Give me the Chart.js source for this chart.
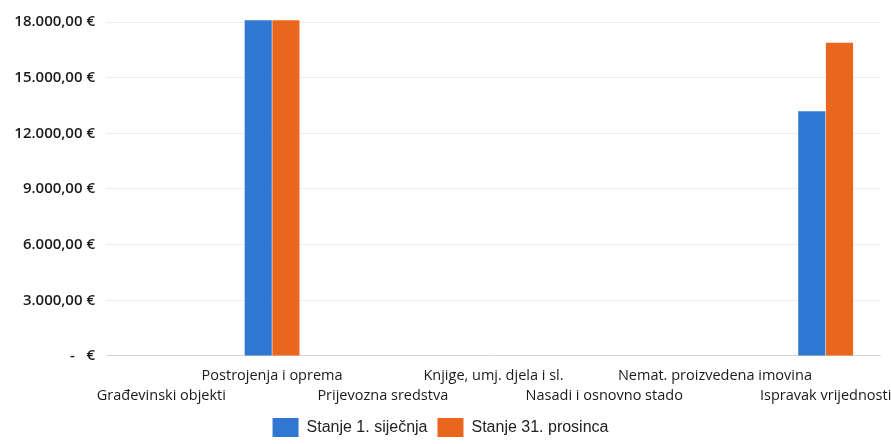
<!DOCTYPE html>
<html>
<head>
<meta charset="utf-8">
<script src="https://cdn.jsdelivr.net/npm/chart.js@4.4.1/dist/chart.umd.min.js"></script>
<style>
  html, body { margin: 0; padding: 0; background: #fff; }
  #wrap { width: 891px; height: 444px; }
</style>
</head>
<body>
<div id="wrap"><canvas id="chart" width="891" height="444"></canvas></div>
<script>
const categories = [
  "Građevinski objekti",
  "Postrojenja i oprema",
  "Prijevozna sredstva",
  "Knjige, umj. djela i sl.",
  "Nasadi i osnovno stado",
  "Nemat. proizvedena imovina",
  "Ispravak vrijednosti",
];
const stanjeSiječnja = [0, 18100, 0, 0, 0, 0, 13190];
const stanjeProsinca = [0, 18100, 0, 0, 0, 0, 16880];
const seriesNames = ["Stanje 1. siječnja", "Stanje 31. prosinca"];
const yTicks = [0, 3000, 6000, 9000, 12000, 15000, 18000];

const COLORS = { jan: "#2f77d1", dec: "#ea661f" };

function euro(v) {
  if (v === 0) return "-   €";
  return v.toLocaleString("de-DE", { minimumFractionDigits: 2, maximumFractionDigits: 2 }) + " €";
}

const ctx = document.getElementById("chart").getContext("2d");
new Chart(ctx, {
  type: "bar",
  data: {
    labels: categories,
    datasets: [
      { label: seriesNames[0], data: stanjeSiječnja, backgroundColor: COLORS.jan, clip: false,
        categoryPercentage: 0.5, barPercentage: 0.98 },
      { label: seriesNames[1], data: stanjeProsinca, backgroundColor: COLORS.dec, clip: false,
        categoryPercentage: 0.5, barPercentage: 0.98 },
    ],
  },
  options: {
    responsive: false,
    animation: false,
    layout: { padding: { top: 22, right: 10, left: 0, bottom: -3 } },
    scales: {
      x: {
        grid: { display: false },
        border: { display: false },
        afterFit: (s) => { s.paddingRight = 0; },
        ticks: {
          autoSkip: false,
          maxRotation: 0,
          minRotation: 0,
          padding: 2,
          color: "#1a1a1a",
          font: { family: "Open Sans", size: 14.5, lineHeight: 1.38 },
          callback: function (v, i) {
            const l = this.getLabelForValue(v);
            return i % 2 ? [l, ""] : ["", l];
          },
        },
      },
      y: {
        min: 0,
        max: 18000,
        afterBuildTicks: (s) => { s.ticks = yTicks.map((v) => ({ value: v })); },
        afterFit: (s) => { s.width = 106; },
        border: { display: false },
        grid: {
          color: (c) => (c.tick && c.tick.value === 0 ? "#d4d4d4" : "#ececec"),
          drawTicks: false,
        },
        ticks: {
          padding: 11,
          color: "#1a1a1a",
          font: { family: "Open Sans", size: 15, weight: "600" },
          callback: (v) => euro(v),
        },
      },
    },
    plugins: {
      tooltip: { enabled: false },
      legend: {
        position: "bottom",
        labels: {
          boxWidth: 26,
          boxHeight: 19,
          padding: 10,
          color: "#222",
          font: { family: "Liberation Sans", size: 16 },
        },
      },
    },
  },
});
</script>
</body>
</html>
